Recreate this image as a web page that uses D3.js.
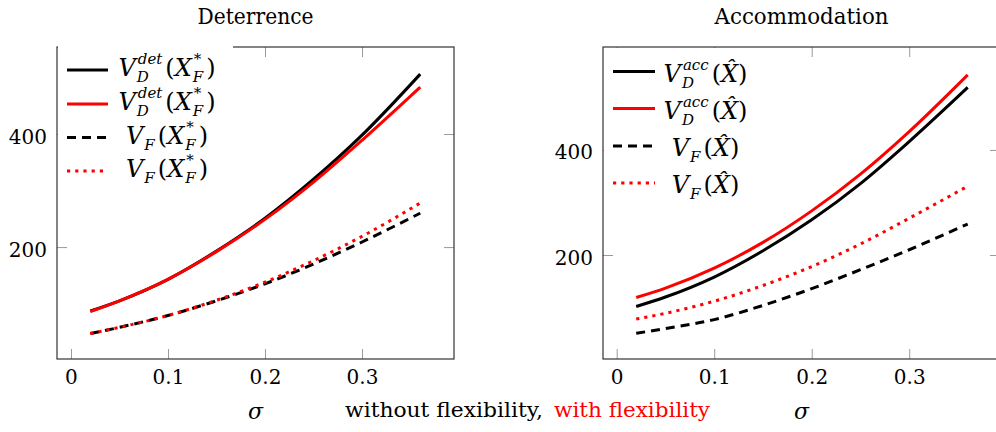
<!DOCTYPE html>
<html>
<head>
<meta charset="utf-8">
<script src="https://cdn.jsdelivr.net/npm/d3@7"></script>
<style>
  html, body { margin: 0; padding: 0; background: #fff; }
</style>
</head>
<body>
<div id="chart"></div>
<script>
// values
const sigma        = [0.02, 0.05, 0.1, 0.15, 0.2, 0.25, 0.3, 0.36];
const detVD        = [87, 105, 143, 193, 251, 320, 398, 506];
const detVDflex    = [86, 105, 143, 192, 249, 315, 389, 483];
const detVF        = [47, 58, 79, 105, 135, 170, 209, 260];
const detVFflex    = [47, 58, 79, 106, 138, 176, 219, 278];
const accVD        = [102, 120, 158, 208, 267, 336, 416, 519];
const accVDflex    = [119, 137, 175, 224, 284, 354, 435, 543];
const accVF        = [51, 60, 77, 104, 136, 172, 210, 259];
const accVFflex    = [78, 89, 112, 142, 178, 221, 270, 331];
const xTicks       = [0, 0.1, 0.2, 0.3];
const xTickLabels  = ['0', '0.1', '0.2', '0.3'];
const yTicks       = [200, 400];
const yTickLabels  = ['200', '400'];
const titles       = ['Deterrence', 'Accommodation'];
const captionParts = ['without flexibility,', 'with flexibility'];

;(function(){
  const W = 996, H = 432;
  const FONT = "DejaVu Serif, Liberation Serif, serif";

  const svg = d3.select('#chart').append('svg')
    .attr('width', W).attr('height', H)
    .attr('viewBox', `0 0 ${W} ${H}`)
    .attr('font-family', FONT);

  svg.append('rect').attr('width', W).attr('height', H).attr('fill', '#fff');

  const dashes = {solid: null, dashed: '9,6', dotted: '3.2,5'};

  // legend labels as math pieces
  const detSolid = [{t:'V', it:true}, {sup:'det', sub:'D'}, {t:'('}, {t:'X', it:true}, {sup:'*', supUp:true, sub:'F'}, {t:')'}];
  const detDash  = [{t:'V', it:true}, {sub:'F'}, {t:'('}, {t:'X', it:true}, {sup:'*', supUp:true, sub:'F'}, {t:')'}];
  const accSolid = [{t:'V', it:true}, {sup:'acc', sub:'D'}, {t:'('}, {t:'X\u0302', it:true}, {t:')'}];
  const accDash  = [{t:'V', it:true}, {sub:'F'}, {t:'('}, {t:'X\u0302', it:true}, {t:')'}];

  const panels = [
    {
      title: titles[0], titleW: 116,
      box: {l:57, t:47, r:454, b:359},
      xDom: [-0.0144, 0.3948], yDom: [2, 554],
      series: [
        {v: detVD,     color:'#000', s:'solid',  label: detSolid},
        {v: detVDflex, color:'#f00', s:'solid',  label: detSolid},
        {v: detVF,     color:'#000', s:'dashed', label: detDash},
        {v: detVFflex, color:'#f00', s:'dotted', label: detDash}
      ],
      legend: {bg:[58, 40, 175, 155], x0:67, x1:108, tx:167, rows:[70, 104, 137.5, 171], base:6}
    },
    {
      title: titles[1], titleW: 174,
      box: {l:603, t:47, r:1000, b:359},
      xDom: [-0.01405, 0.3931], yDom: [2, 596],
      series: [
        {v: accVD,     color:'#000', s:'solid',  label: accSolid},
        {v: accVDflex, color:'#f00', s:'solid',  label: accSolid},
        {v: accVF,     color:'#000', s:'dashed', label: accDash},
        {v: accVFflex, color:'#f00', s:'dotted', label: accDash}
      ],
      legend: {bg:[604, 48, 156, 152], x0:613, x1:655, tx:705.5, rows:[71.5, 108.5, 146, 183], base:10}
    }
  ];

  function measure(str, size, italic){
    const t = svg.append('text')
      .attr('font-family', FONT)
      .attr('font-size', size)
      .attr('font-style', italic ? 'italic' : 'normal')
      .text(str);
    const w = t.node().getComputedTextLength();
    t.remove();
    return w;
  }

  // lay out a math label as pieces, then write them as tspans of one text
  function mathLabel(parent, parts, cx, baseline){
    const pcs = [];
    let x = 0;
    parts.forEach(p => {
      if (p.t !== undefined) {
        const w = measure(p.t, 24, p.it);
        pcs.push({s:p.t, x:x, y:0, size:24, it:p.it});
        x += w;
      } else {
        let w = 0;
        if (p.sup) {
          pcs.push({s:p.sup, x:x + 2, y:-12, size:15, it:!p.supUp});
          w = Math.max(w, measure(p.sup, 15, !p.supUp) + 2);
        }
        if (p.sub) {
          pcs.push({s:p.sub, x:x + 1, y:6, size:15, it:true});
          w = Math.max(w, measure(p.sub, 15, true) + 1);
        }
        x += w + 3;
      }
    });
    const x0 = cx - x/2;
    const t = parent.append('text').attr('font-family', FONT);
    pcs.forEach(pc => {
      t.append('tspan')
        .attr('x', x0 + pc.x).attr('y', baseline + pc.y)
        .attr('font-size', pc.size)
        .attr('font-style', pc.it ? 'italic' : 'normal')
        .text(pc.s);
    });
  }

  panels.forEach(P => {
    const b = P.box;
    const x = d3.scaleLinear().domain(P.xDom).range([b.l, b.r]);
    const y = d3.scaleLinear().domain(P.yDom).range([b.b, b.t]);
    const g = svg.append('g');

    // title
    g.append('text')
      .attr('x', (b.l + b.r)/2).attr('y', 24)
      .attr('text-anchor', 'middle')
      .attr('font-family', FONT).attr('font-size', 22)
      .attr('textLength', P.titleW).attr('lengthAdjust', 'spacingAndGlyphs')
      .text(P.title);

    // axes, ticks pointing inward
    const axB = g.append('g').attr('transform', `translate(0,${b.b})`)
      .call(d3.axisBottom(x).tickValues(xTicks).tickSize(-10).tickPadding(11)
        .tickFormat((d,i) => xTickLabels[i]));
    const axT = g.append('g').attr('transform', `translate(0,${b.t})`)
      .call(d3.axisTop(x).tickValues(xTicks).tickSize(-10).tickFormat(''));
    const axL = g.append('g').attr('transform', `translate(${b.l},0)`)
      .call(d3.axisLeft(y).tickValues(yTicks).tickSize(-10).tickPadding(10)
        .tickFormat((d,i) => yTickLabels[i]));
    const axR = g.append('g').attr('transform', `translate(${b.r},0)`)
      .call(d3.axisRight(y).tickValues(yTicks).tickSize(-10).tickFormat(''));

    [axB, axT, axL, axR].forEach(a => {
      a.attr('font-family', FONT).attr('font-size', 20);
      a.select('.domain').remove();
      a.selectAll('.tick line').attr('stroke', '#9a9a9a').attr('stroke-width', 1);
      a.selectAll('.tick text').attr('fill', '#000');
    });
    axL.selectAll('.tick text').attr('dy', '0.45em');
    axB.selectAll('.tick text').attr('dy', '0.71em');

    // legend background (white, no frame)
    const L = P.legend;
    const legBg = () => g.append('rect')
      .attr('x', L.bg[0]).attr('y', L.bg[1])
      .attr('width', L.bg[2]).attr('height', L.bg[3])
      .attr('fill', '#fff');

    if (P === panels[1]) legBg();

    // frame
    g.append('rect')
      .attr('x', b.l).attr('y', b.t)
      .attr('width', b.r - b.l).attr('height', b.b - b.t)
      .attr('fill', 'none').attr('stroke', '#333').attr('stroke-width', 1.2);

    if (P === panels[0]) legBg();

    // axis title
    g.append('text')
      .attr('x', (b.l + b.r)/2).attr('y', 419)
      .attr('text-anchor', 'middle')
      .attr('font-family', FONT).attr('font-size', 22).attr('font-style', 'italic')
      .text('\u03C3');

    // curves
    const line = d3.line()
      .x((d,i) => x(sigma[i]))
      .y(d => y(d))
      .curve(d3.curveMonotoneX);

    P.series.forEach(s => {
      g.append('path')
        .attr('d', line(s.v))
        .attr('fill', 'none')
        .attr('stroke', s.color)
        .attr('stroke-width', 3)
        .attr('stroke-dasharray', dashes[s.s]);
    });

    // legend entries
    P.series.forEach((s, i) => {
      const ry = L.rows[i];
      g.append('line')
        .attr('x1', L.x0).attr('x2', L.x1)
        .attr('y1', ry).attr('y2', ry)
        .attr('stroke', s.color).attr('stroke-width', 3)
        .attr('stroke-dasharray', dashes[s.s]);
      mathLabel(g, s.label, L.tx, ry + L.base);
    });
  });

  // caption
  const cap = svg.append('g').attr('font-family', FONT).attr('font-size', 21);
  cap.append('text').attr('x', 345).attr('y', 417)
    .attr('font-family', FONT)
    .attr('textLength', 198).attr('lengthAdjust', 'spacingAndGlyphs')
    .text(captionParts[0]);
  cap.append('text').attr('x', 554).attr('y', 417)
    .attr('font-family', FONT)
    .attr('textLength', 156).attr('lengthAdjust', 'spacingAndGlyphs')
    .attr('fill', '#f00')
    .text(captionParts[1]);
})();
</script>
</body>
</html>
